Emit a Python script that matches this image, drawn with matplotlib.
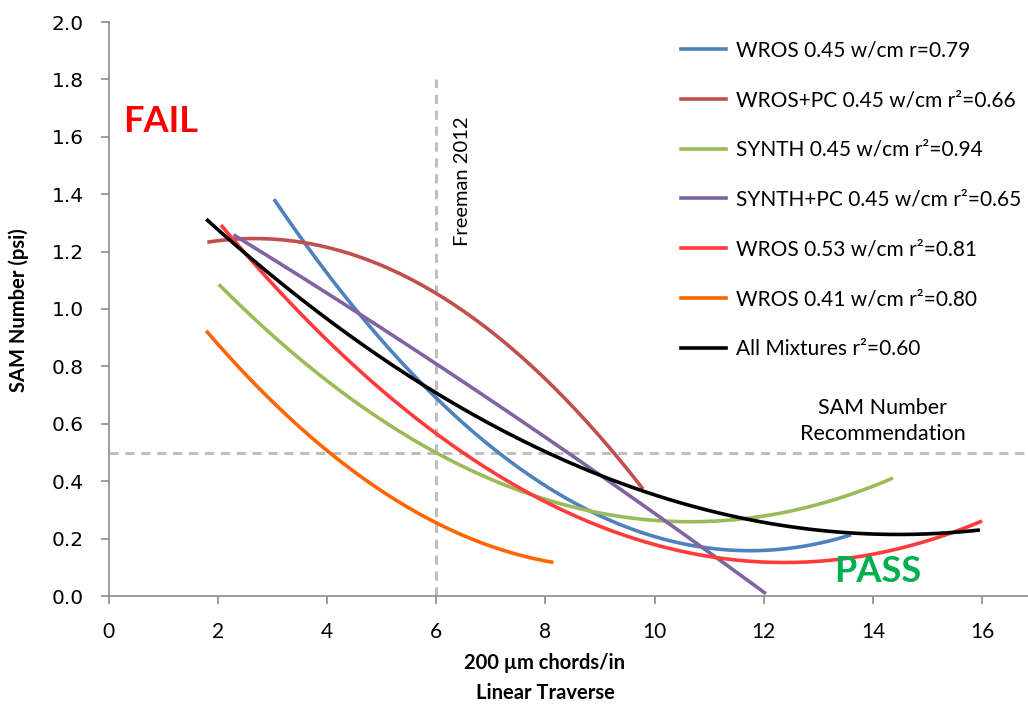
import numpy as np
import matplotlib
matplotlib.use("Agg")
import matplotlib.pyplot as plt
from matplotlib.lines import Line2D

# ---- data (points on each trendline) ----
wros45_x = [3.03, 4, 5, 6, 7, 8, 9, 10, 11, 12, 13, 13.6]
wros45_y = [1.383, 1.125, 0.892, 0.690, 0.521, 0.384, 0.280, 0.207, 0.167, 0.159, 0.183, 0.213]

wrospc45_x = [1.81, 2, 3, 4, 5, 6, 7, 8, 9, 9.79]
wrospc45_y = [1.234, 1.238, 1.243, 1.214, 1.151, 1.054, 0.923, 0.758, 0.559, 0.369]

synth45_x = [2.02, 3, 4, 5, 6, 7, 8, 9, 10, 11, 12, 13, 14, 14.37]
synth45_y = [1.087, 0.908, 0.750, 0.613, 0.499, 0.407, 0.337, 0.289, 0.264, 0.260, 0.279, 0.320, 0.384, 0.409]

synthpc45_x = [2.29, 3, 4, 5, 6, 7, 8, 9, 10, 11, 12, 12.04]
synthpc45_y = [1.258, 1.176, 1.054, 0.932, 0.811, 0.685, 0.555, 0.420, 0.285, 0.150, 0.015, 0.010]

wros53_x = [2.06, 3, 4, 5, 6, 7, 8, 9, 10, 11, 12, 13, 14, 15, 16]
wros53_y = [1.292, 1.088, 0.892, 0.718, 0.567, 0.437, 0.329, 0.243, 0.179, 0.138, 0.118, 0.120, 0.144, 0.190, 0.265]

wros41_x = [1.79, 2, 3, 4, 5, 6, 7, 8, 8.15]
wros41_y = [0.923, 0.879, 0.678, 0.507, 0.366, 0.255, 0.174, 0.123, 0.116]

all_x = [1.79, 4, 5.7, 7.54, 9.0, 9.37, 10.83, 12.3, 12.66, 14.13, 15.96]
all_y = [1.314, 0.962, 0.747, 0.544, 0.418, 0.398, 0.305, 0.247, 0.236, 0.216, 0.230]

labels = ["WROS 0.45 w/cm r=0.79",
          "WROS+PC 0.45 w/cm r\u00b2=0.66",
          "SYNTH 0.45 w/cm r\u00b2=0.94",
          "SYNTH+PC 0.45 w/cm r\u00b2=0.65",
          "WROS 0.53 w/cm r\u00b2=0.81",
          "WROS 0.41 w/cm r\u00b2=0.80",
          "All Mixtures r\u00b2=0.60"]
colors = ["#4F81BD", "#C0504D", "#9BBB59", "#8064A2", "#FF3B3B", "#FF6600", "#000000"]
series = [(wros45_x, wros45_y), (wrospc45_x, wrospc45_y), (synth45_x, synth45_y),
          (synthpc45_x, synthpc45_y), (wros53_x, wros53_y), (wros41_x, wros41_y),
          (all_x, all_y)]
degrees = [2, 2, 2, 2, 2, 2, 3]

xticks = [0, 2, 4, 6, 8, 10, 12, 14, 16]
yticks = [0.0, 0.2, 0.4, 0.6, 0.8, 1.0, 1.2, 1.4, 1.6, 1.8, 2.0]

freeman_x = 6
freeman_top = 1.8
sam_rec = 0.5

# ---- figure ----
plt.rcParams['font.family'] = ['Lato', 'DejaVu Sans']
fig = plt.figure(figsize=(10.28, 7.09), dpi=100)
ax = fig.add_axes([108.5 / 1028, 1 - 596 / 709, 1 - 108.5 / 1028, (596 - 22) / 709])
ax.set_xlim(0, (1028 - 108.5) / 54.6)
ax.set_ylim(0, 2.0)

grey = "#BFBFBF"
ax.plot([freeman_x, freeman_x], [0, freeman_top], ls=(0, (3, 2.2)), color=grey, lw=2.2, zorder=1)
ax.axhline(sam_rec, ls=(0, (3, 2.2)), color=grey, lw=2.2, zorder=1)

handles = []
for (xs, ys), c, lab, d in zip(series, colors, labels, degrees):
    xs = np.asarray(xs); ys = np.asarray(ys)
    coef = np.polyfit(xs, ys, d)
    xx = np.linspace(xs.min(), xs.max(), 200)
    ax.plot(xx, np.polyval(coef, xx), color=c, lw=2.6, solid_capstyle='butt', zorder=3)
    handles.append(Line2D([0], [0], color=c, lw=2.6))

for s in ['top', 'right']:
    ax.spines[s].set_visible(False)
for s in ['left', 'bottom']:
    ax.spines[s].set_color('#8C8C8C')
    ax.spines[s].set_linewidth(1.2)

ax.set_xticks(xticks)
ax.set_xticklabels([str(t) for t in xticks], fontsize=15)
ax.set_yticks(yticks)
ax.set_yticklabels([f"{t:.1f}" for t in yticks])
for t in ax.get_yticklabels():
    t.set_fontfamily('DejaVu Sans')
    t.set_fontsize(14.5)
ax.tick_params(axis='both', direction='out', length=6, width=1.2, color='#8C8C8C')
ax.tick_params(axis='x', pad=13)
ax.tick_params(axis='y', pad=12)

fig.text(545 / 1028, 1 - 663 / 709, "200 \u00b5m chords/in", ha='center', va='center',
         fontsize=14.5, fontweight='bold')
fig.text(545 / 1028, 1 - 693 / 709, "Linear Traverse", ha='center', va='center',
         fontsize=14.5, fontweight='bold')
fig.text(19 / 1028, 1 - 310 / 709, "SAM Number (psi)", ha='center', va='center',
         rotation=90, fontsize=14.5, fontweight='bold')

fig.text(462 / 1028, 1 - 181 / 709, "Freeman 2012", ha='center', va='center',
         rotation=90, fontsize=14.5)
fig.text(883 / 1028, 1 - 421 / 709, "SAM Number\nRecommendation", ha='center', va='center',
         fontsize=15.5, linespacing=1.4)
fig.text(161 / 1028, 1 - 122 / 709, "FAIL", ha='center', va='center', color='#FF0000',
         fontsize=26, fontweight='bold')
fig.text(878 / 1028, 1 - 571 / 709, "PASS", ha='center', va='center', color='#00B050',
         fontsize=26, fontweight='bold')

leg = ax.legend(handles, labels, loc='upper left', bbox_to_anchor=(673 / 1028, 1 - 32 / 709),
                bbox_transform=fig.transFigure, frameon=False, fontsize=15,
                handlelength=2.15, handletextpad=0.45, labelspacing=1.43, borderaxespad=0)

fig.savefig("out.png", dpi=100)
